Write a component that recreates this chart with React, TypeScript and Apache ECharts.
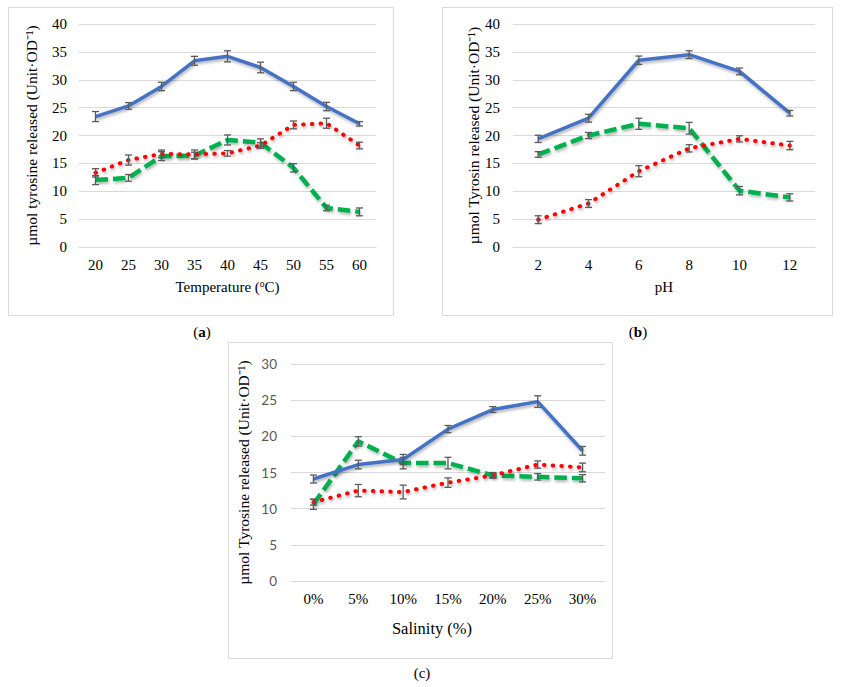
import React, { useEffect, useRef } from "react";
import * as echarts from "echarts";

// ---- Data ----
const tempCats = ["20", "25", "30", "35", "40", "45", "50", "55", "60"];
const tempBlue = [23.4, 25.3, 28.8, 33.4, 34.2, 32.2, 28.8, 25.2, 22.1];
const tempBlueErr = [0.9, 0.6, 0.75, 0.8, 1.0, 0.95, 0.75, 0.75, 0.4];
const tempRed = [13.3, 15.6, 16.7, 16.6, 16.8, 18.2, 21.9, 22.2, 18.2];
const tempRedErr = [0.75, 0.9, 0.7, 0.8, 0.5, 0.5, 0.7, 0.9, 0.6];
const tempGreen = [12.0, 12.4, 16.3, 16.4, 19.2, 18.7, 14.2, 7.0, 6.3];
const tempGreenErr = [0.8, 0.6, 0.8, 0.6, 0.9, 0.7, 0.75, 0.5, 0.7];

const phCats = ["2", "4", "6", "8", "10", "12"];
const phBlue = [19.4, 23.1, 33.5, 34.5, 31.5, 24.0];
const phBlueErr = [0.65, 0.7, 0.75, 0.7, 0.6, 0.5];
const phGreen = [16.6, 20.0, 22.1, 21.3, 10.1, 8.9];
const phGreenErr = [0.5, 0.55, 1.0, 1.05, 0.75, 0.65];
const phRed = [4.9, 7.8, 13.6, 17.7, 19.4, 18.2];
const phRedErr = [0.7, 0.7, 1.0, 0.65, 0.55, 0.75];

const salCats = ["0%", "5%", "10%", "15%", "20%", "25%", "30%"];
const salBlue = [14.1, 16.1, 16.8, 21.0, 23.7, 24.8, 18.0];
const salBlueErr = [0.55, 0.6, 0.7, 0.5, 0.4, 0.8, 0.6];
const salGreen = [10.6, 19.3, 16.3, 16.3, 14.6, 14.4, 14.2];
const salGreenErr = [0.7, 0.65, 0.8, 0.8, 0.4, 0.45, 0.5];
const salRed = [10.9, 12.5, 12.3, 13.6, 14.6, 16.1, 15.7];
const salRedErr = [0.4, 0.85, 0.95, 0.65, 0.3, 0.5, 0.6];

const yTicksAB = { min: 0, max: 40, interval: 5 };
const yTicksC = { min: 0, max: 30, interval: 5 };

const BLUE = "#4472C4";
const RED = "#FF0000";
const GREEN = "#00B050";
const ERR = "#5A5A5A";
const GRIDC = "#D9D9D9";
const SERIF = "Liberation Serif";
const SANS = "Lato";

function errData(vals: number[], errs: number[]) {
  return vals.map((v, i) => [i, v - errs[i], v + errs[i]]);
}

const shadow = {
  shadowColor: "rgba(0,0,0,0.3)",
  shadowBlur: 3,
  shadowOffsetY: 2,
  shadowOffsetX: 1,
};

function lineSeries(idx: number, data: number[], kind: "blue" | "red" | "green") {
  const style: any =
    kind === "blue"
      ? { color: BLUE, width: 3.5, type: "solid", ...shadow }
      : kind === "red"
      ? { color: RED, width: 4, type: [0.5, 8.2], cap: "round", ...shadow }
      : { color: GREEN, width: 4.5, type: [12.5, 5], cap: "butt", ...shadow };
  return {
    type: "line",
    xAxisIndex: idx,
    yAxisIndex: idx,
    data,
    symbol: "none",
    lineStyle: style,
    z: kind === "blue" ? 3 : kind === "green" ? 2 : 4,
  };
}

function errSeries(idx: number, vals: number[], errs: number[]) {
  return {
    type: "custom",
    xAxisIndex: idx,
    yAxisIndex: idx,
    data: errData(vals, errs),
    encode: { x: 0, y: [1, 2] },
    z: 10,
    silent: true,
    renderItem: (params: any, api: any) => {
      const x = api.value(0);
      const lo = api.coord([x, api.value(1)]);
      const hi = api.coord([x, api.value(2)]);
      const w = 3.5;
      const st = { stroke: ERR, lineWidth: 1.3, fill: "none" };
      return {
        type: "group",
        children: [
          { type: "line", shape: { x1: hi[0], y1: hi[1], x2: lo[0], y2: lo[1] }, style: st },
          { type: "line", shape: { x1: hi[0] - w, y1: hi[1], x2: hi[0] + w, y2: hi[1] }, style: st },
          { type: "line", shape: { x1: lo[0] - w, y1: lo[1], x2: lo[0] + w, y2: lo[1] }, style: st },
        ],
      };
    },
  };
}

function xAxisDef(idx: number, cats: string[], name: any, gap: number, fontSize: number, nameSize: number, namePad?: number[]) {
  return {
    type: "category",
    gridIndex: idx,
    data: cats,
    boundaryGap: true,
    axisLine: { show: true, lineStyle: { color: GRIDC, width: 1 } },
    axisTick: { show: false },
    axisLabel: { color: "#000", fontFamily: SERIF, fontSize, margin: 10 },
    name,
    nameLocation: "middle",
    nameGap: gap,
    nameTextStyle: {
      color: "#000",
      fontFamily: SERIF,
      fontSize: nameSize,
      padding: namePad || 0,
      rich: {
        t: { fontSize: nameSize, fontFamily: SERIF, color: "#000" },
        sup: { fontSize: 9.5, fontFamily: SERIF, color: "#000", verticalAlign: "top", padding: [0, 0, 6, 0] },
      },
    },
  };
}

function yAxisDef(idx: number, ticks: any, name: string, gap: number, labelColor: string, labelFont: string, labelSize: number, margin: number) {
  return {
    type: "value",
    gridIndex: idx,
    ...ticks,
    axisLine: { show: false },
    axisTick: { show: false },
    splitLine: { show: true, lineStyle: { color: GRIDC, width: 1 } },
    axisLabel: { color: labelColor, fontFamily: labelFont, fontSize: labelSize, margin },
    name,
    nameLocation: "middle",
    nameRotate: 90,
    nameGap: gap,
    nameTextStyle: { color: "#000", fontFamily: SERIF, fontSize: 15.5 },
  };
}

function caption(x: number, y: number, letter: string, bold: boolean) {
  return {
    type: "text",
    x,
    y,
    style: {
      text: bold ? `{n|(}{b|${letter}}{n|)}` : `(${letter})`,
      fill: "#000",
      fontFamily: SERIF,
      fontSize: 15,
      align: "center",
      verticalAlign: "middle",
      rich: {
        n: { fontSize: 15, fontFamily: SERIF },
        b: { fontWeight: "bold", fontSize: 15, fontFamily: SERIF },
      },
    },
  };
}

export default function App() {
  const ref = useRef<HTMLDivElement>(null);
  useEffect(() => {
    if (!ref.current) return;
    const chart = echarts.init(ref.current, undefined, { renderer: "svg" });
    const option: any = {
      animation: false,
      backgroundColor: "#fff",
      textStyle: { fontFamily: SERIF },
      grid: [
        { left: 79, top: 24, width: 297, height: 223 },
        { left: 513, top: 24, width: 302, height: 223 },
        { left: 291, top: 364, width: 314, height: 217 },
      ],
      xAxis: [
        xAxisDef(0, tempCats, "{t|Temperature (}{sup|o}{t|C)}", 32, 15, 15),
        xAxisDef(1, phCats, "pH", 32, 15, 15),
        xAxisDef(2, salCats, "Salinity (%)", 39, 15, 16.5, [0, 32, 0, 0]),
      ],
      yAxis: [
        yAxisDef(0, yTicksAB, "µmol tyrosine released (Unit·OD⁻¹)", 40, "#000", SERIF, 15, 12),
        yAxisDef(1, yTicksAB, "µmol Tyrosin released (Unit·OD⁻¹)", 32, "#000", SERIF, 15, 13),
        yAxisDef(2, yTicksC, "µmol Tyrosine released (Unit·OD⁻¹)", 40, "#595959", SANS, 13.5, 14),
      ],
      series: [
        lineSeries(0, tempBlue, "blue"),
        lineSeries(0, tempRed, "red"),
        lineSeries(0, tempGreen, "green"),
        errSeries(0, tempBlue, tempBlueErr),
        errSeries(0, tempRed, tempRedErr),
        errSeries(0, tempGreen, tempGreenErr),
        lineSeries(1, phBlue, "blue"),
        lineSeries(1, phGreen, "green"),
        lineSeries(1, phRed, "red"),
        errSeries(1, phBlue, phBlueErr),
        errSeries(1, phGreen, phGreenErr),
        errSeries(1, phRed, phRedErr),
        lineSeries(2, salBlue, "blue"),
        lineSeries(2, salGreen, "green"),
        lineSeries(2, salRed, "red"),
        errSeries(2, salBlue, salBlueErr),
        errSeries(2, salGreen, salGreenErr),
        errSeries(2, salRed, salRedErr),
      ],
      graphic: [
        { type: "rect", shape: { x: 8.5, y: 7.5, width: 385, height: 308 }, style: { fill: "none", stroke: GRIDC, lineWidth: 1 }, z: -1 },
        { type: "rect", shape: { x: 442.5, y: 7.5, width: 390, height: 308 }, style: { fill: "none", stroke: GRIDC, lineWidth: 1 }, z: -1 },
        { type: "rect", shape: { x: 228.5, y: 342.5, width: 384, height: 316 }, style: { fill: "none", stroke: GRIDC, lineWidth: 1 }, z: -1 },
        caption(202, 332, "a", true),
        caption(638, 332, "b", true),
        caption(422, 673, "c", false),
      ],
    };
    chart.setOption(option);
    return () => chart.dispose();
  }, []);
  return (
    <div
      ref={ref}
      style={{ position: "fixed", left: 0, top: 0, width: 841, height: 687, background: "#fff" }}
    />
  );
}
